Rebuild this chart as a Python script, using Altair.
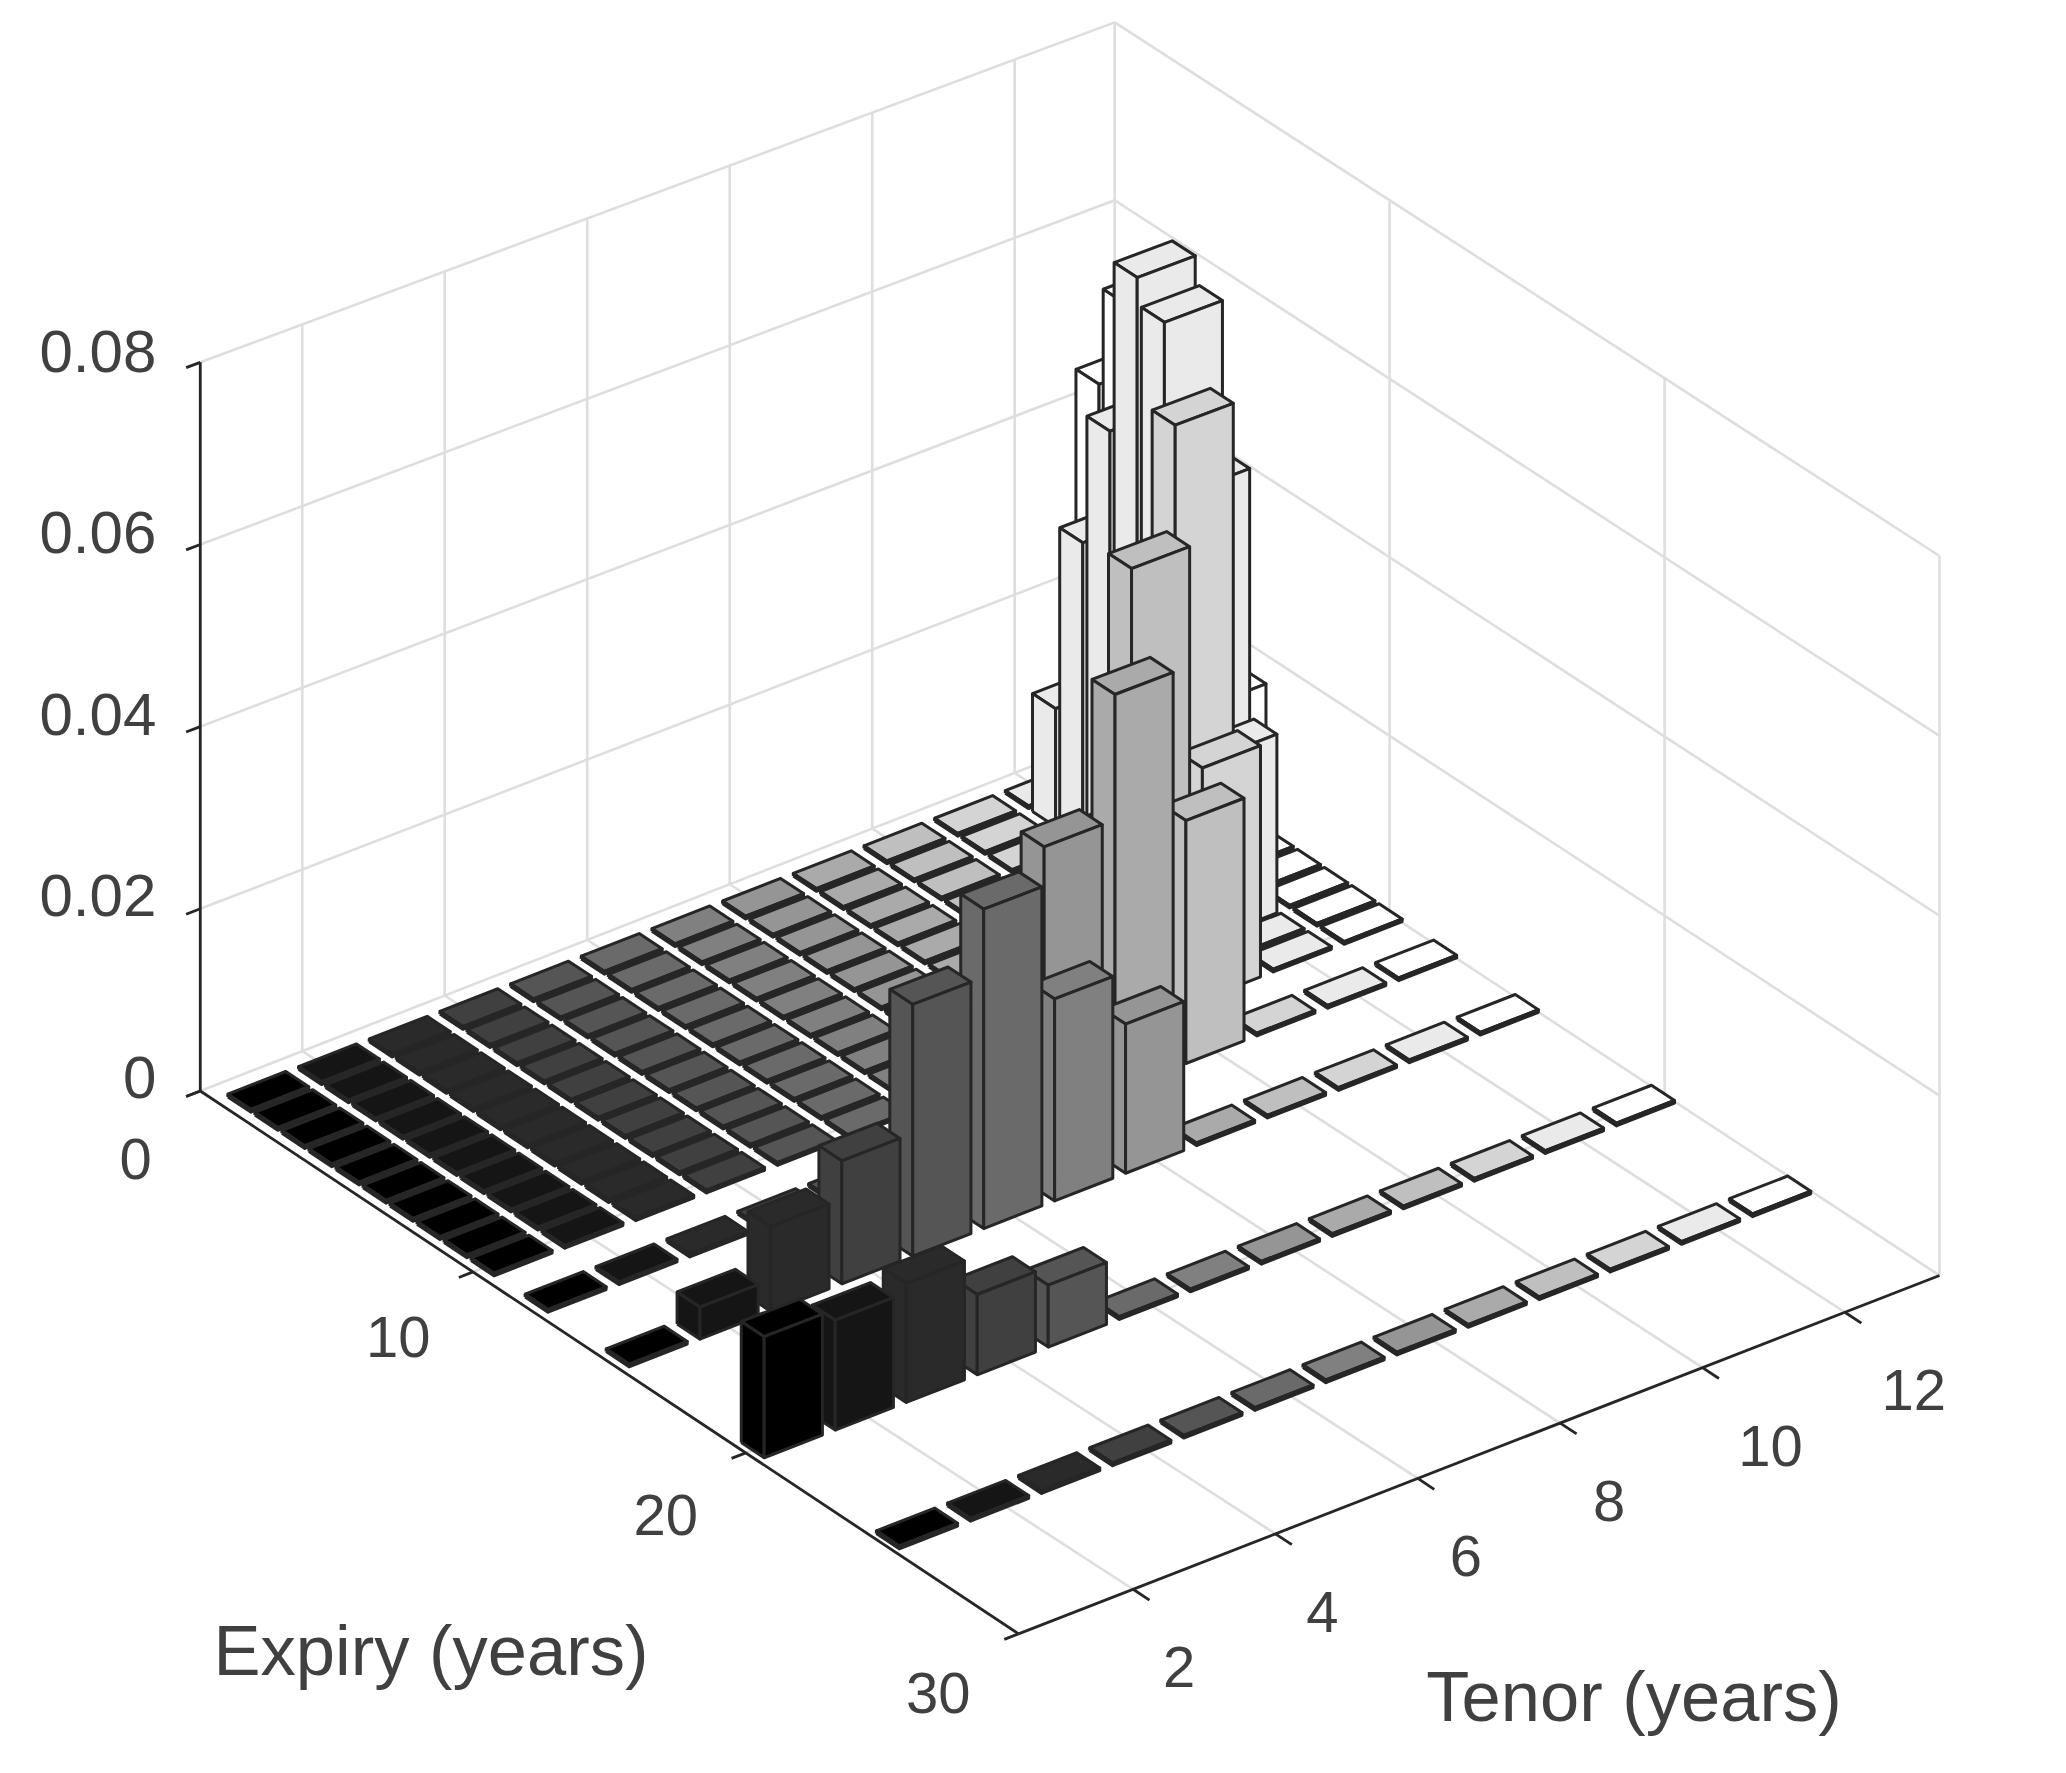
import altair as alt
import pandas as pd

# ---- data ----
expiries = [1, 2, 3, 4, 5, 6, 7, 8, 9, 10, 12, 15, 20, 25]
tenors = [1, 2, 3, 4, 5, 6, 7, 8, 9, 10, 11, 12, 13]
flat = 0.0003
# non-flat bars: expiry -> {tenor: value}
tall = {
    1: {13: 0.0445},
    2: {12: 0.0132, 13: 0.0555},
    3: {12: 0.0338, 13: 0.050},
    4: {12: 0.0483, 13: 0.036},
    5: {12: 0.0675, 13: 0.0165},
    6: {11: 0.010, 12: 0.0645},
    7: {11: 0.018, 12: 0.0477},
    8: {11: 0.030, 12: 0.020},
    9: {10: 0.012, 11: 0.0620},
    10: {9: 0.010, 10: 0.051, 11: 0.0258},
    12: {7: 0.010, 8: 0.0301, 9: 0.0440, 10: 0.027},
    15: {2: 0.0035, 3: 0.0093, 4: 0.0135, 5: 0.0277, 6: 0.0352, 7: 0.0223, 8: 0.0165},
    20: {1: 0.0132, 2: 0.012, 3: 0.013, 4: 0.0088, 5: 0.0068},
}
tenor_ticks = [2, 4, 6, 8, 10, 12]
expiry_ticks = [0, 10, 20, 30]
z_ticks = [0, 0.02, 0.04, 0.06, 0.08]
z_labels = ["0", "0.02", "0.04", "0.06", "0.08"]

# ---- view: corners of the box floor and their height at Z1 ----
T0, T1 = 0.39, 13.33
E0, E1 = 0.0, 30.0
Z1 = 0.08
S = 2066 / 1568
L = (152 * S, 828 * S)
F = (773 * S, 1240 * S)
R = (1472 * S, 968 * S)
B = (846 * S, 557 * S)
H_L, H_F, H_R, H_B = 553 * S, 559 * S, 546 * S, 540 * S
HT, HE = 0.41, 0.42
W, H = 2040, 1745
GRID, EDGE, INK = "#dedede", "#262626", "#404040"


def proj(t, e, z=0.0):
    a = (t - T0) / (T1 - T0)
    b = (e - E0) / (E1 - E0)
    w = ((1 - a) * (1 - b), (1 - a) * b, a * b, a * (1 - b))
    x = w[0] * L[0] + w[1] * F[0] + w[2] * R[0] + w[3] * B[0]
    y = w[0] * L[1] + w[1] * F[1] + w[2] * R[1] + w[3] * B[1]
    h = w[0] * H_L + w[1] * H_F + w[2] * H_R + w[3] * H_B
    return x, y - z / Z1 * h


def wall_t(t):
    return t - 0.167 + 0.0082 * (t - 2)


def bar_dt(e):
    return -0.03 - 0.0036 * e


def gray(t):
    v = round(255 * (t - 1) / 12)
    return f"#{v:02x}{v:02x}{v:02x}"


polys = []
pid = 0
for e in expiries:
    for t in reversed(tenors):
        z = tall.get(e, {}).get(t, flat)
        c = t + bar_dt(e)
        t0, t1, e0, e1 = c - HT, c + HT, e - HE, e + HE
        faces = [
            [(t0, e0, z), (t1, e0, z), (t1, e1, z), (t0, e1, z)],
            [(t0, e0, 0), (t0, e1, 0), (t0, e1, z), (t0, e0, z)],
            [(t0, e1, 0), (t1, e1, 0), (t1, e1, z), (t0, e1, z)],
        ]
        for face in faces:
            for i, p in enumerate(face + face[:1]):
                x, y = proj(*p)
                polys.append({"p": pid, "v": i, "x": x, "y": y, "col": gray(t)})
            pid += 1


def add_seg(rows, a, b):
    n = len(rows) // 2
    for i, c in enumerate((a, b)):
        x, y = proj(*c)
        rows.append({"s": n, "v": i, "x": x, "y": y})


grid, axes = [], []
for z in z_ticks:
    add_seg(grid, (T0, 0, z), (T1, 0, z))
    add_seg(grid, (T1, 0, z), (T1, 30, z))
for t in tenor_ticks:
    add_seg(grid, (wall_t(t), 0, 0), (wall_t(t), 0, Z1))
    add_seg(grid, (wall_t(t), 0, 0), (t, 30, 0))
for e in expiry_ticks[1:3]:
    add_seg(grid, (T1, e, 0), (T1, e, Z1))
    add_seg(grid, (T0, e, 0), (T1, e, 0))
add_seg(grid, (T1, 0, 0), (T1, 0, Z1))
add_seg(grid, (T1, 30, 0), (T1, 30, Z1))

add_seg(axes, (T0, 0, 0), (T0, 0, Z1))
add_seg(axes, (T0, 0, 0), (T0, 30, 0))
add_seg(axes, (T0, 30, 0), (T1, 30, 0))
for z in z_ticks:
    add_seg(axes, (T0, 0, z), (T0 - 0.2, 0, z))
for e in expiry_ticks:
    add_seg(axes, (T0, e, 0), (T0 - 0.2, e, 0))
for t in tenor_ticks:
    add_seg(axes, (t, 30, 0), (t, 30.6, 0))

labels = []
for z, s in zip(z_ticks, z_labels):
    x, y = proj(T0, 0, z)
    labels.append({"x": x - 44, "y": y - 11 + 30 * z, "s": s, "a": "right"})
for e in expiry_ticks:
    x, y = proj(T0, e, 0)
    nudge = -5 if e in (10, 20) else 0
    labels.append({"x": x + nudge + (-49 - 0.4 * e) * S, "y": y + 3 + (52 - 0.23 * e) * S, "s": str(e), "a": "center"})
for t in tenor_ticks:
    x, y = proj(t, 30, 0)
    labels.append({"x": x + 46 + (18 if t >= 10 else 0) + 0.5 * (t - 2), "y": y + 81, "s": str(t), "a": "center"})
titles = [
    {"x": 431, "y": 1654, "s": "Expiry (years)"},
    {"x": 1634, "y": 1700, "s": "Tenor (years)"},
]

xs = alt.Scale(domain=[8, 8 + W], range=[0, W])
ys = alt.Scale(domain=[8, 8 + H], range=[0, H])
X = alt.X("x:Q", scale=xs, axis=None)
Y = alt.Y("y:Q", scale=ys, axis=None)


def lines(rows, color, width):
    return (
        alt.Chart(pd.DataFrame(rows))
        .mark_line(color=color, strokeWidth=width, clip=False)
        .encode(x=X, y=Y, detail="s:N", order="v:Q")
    )


bars = (
    alt.Chart(pd.DataFrame(polys))
    .mark_line(stroke=EDGE, strokeWidth=3, strokeJoin="round")
    .encode(
        x=X,
        y=Y,
        detail="p:Q",
        order="v:Q",
        fill=alt.Fill("col:N", scale=None, legend=None),
    )
)

lab_right = (
    alt.Chart(pd.DataFrame([d for d in labels if d["a"] == "right"]))
    .mark_text(font="Liberation Sans", fontSize=60, color=INK, align="right", baseline="middle")
    .encode(x=X, y=Y, text="s:N")
)
lab_center = (
    alt.Chart(pd.DataFrame([d for d in labels if d["a"] == "center"]))
    .mark_text(font="Liberation Sans", fontSize=58, color=INK, align="center", baseline="middle")
    .encode(x=X, y=Y, text="s:N")
)
lab_title = (
    alt.Chart(pd.DataFrame(titles))
    .mark_text(font="Liberation Sans", fontSize=70.5, color=INK, align="center", baseline="middle")
    .encode(x=X, y=Y, text="s:N")
)

alt.data_transformers.disable_max_rows()
chart = (
    alt.layer(lines(grid, GRID, 2.6), lines(axes, EDGE, 2.8), bars, lab_right, lab_center, lab_title)
    .resolve_scale(fill="independent")
    .properties(width=W, height=H, padding=0, background="white")
    .configure_view(stroke=None)
)
chart.save("out.html", embed_options={"renderer": "svg", "actions": False})
